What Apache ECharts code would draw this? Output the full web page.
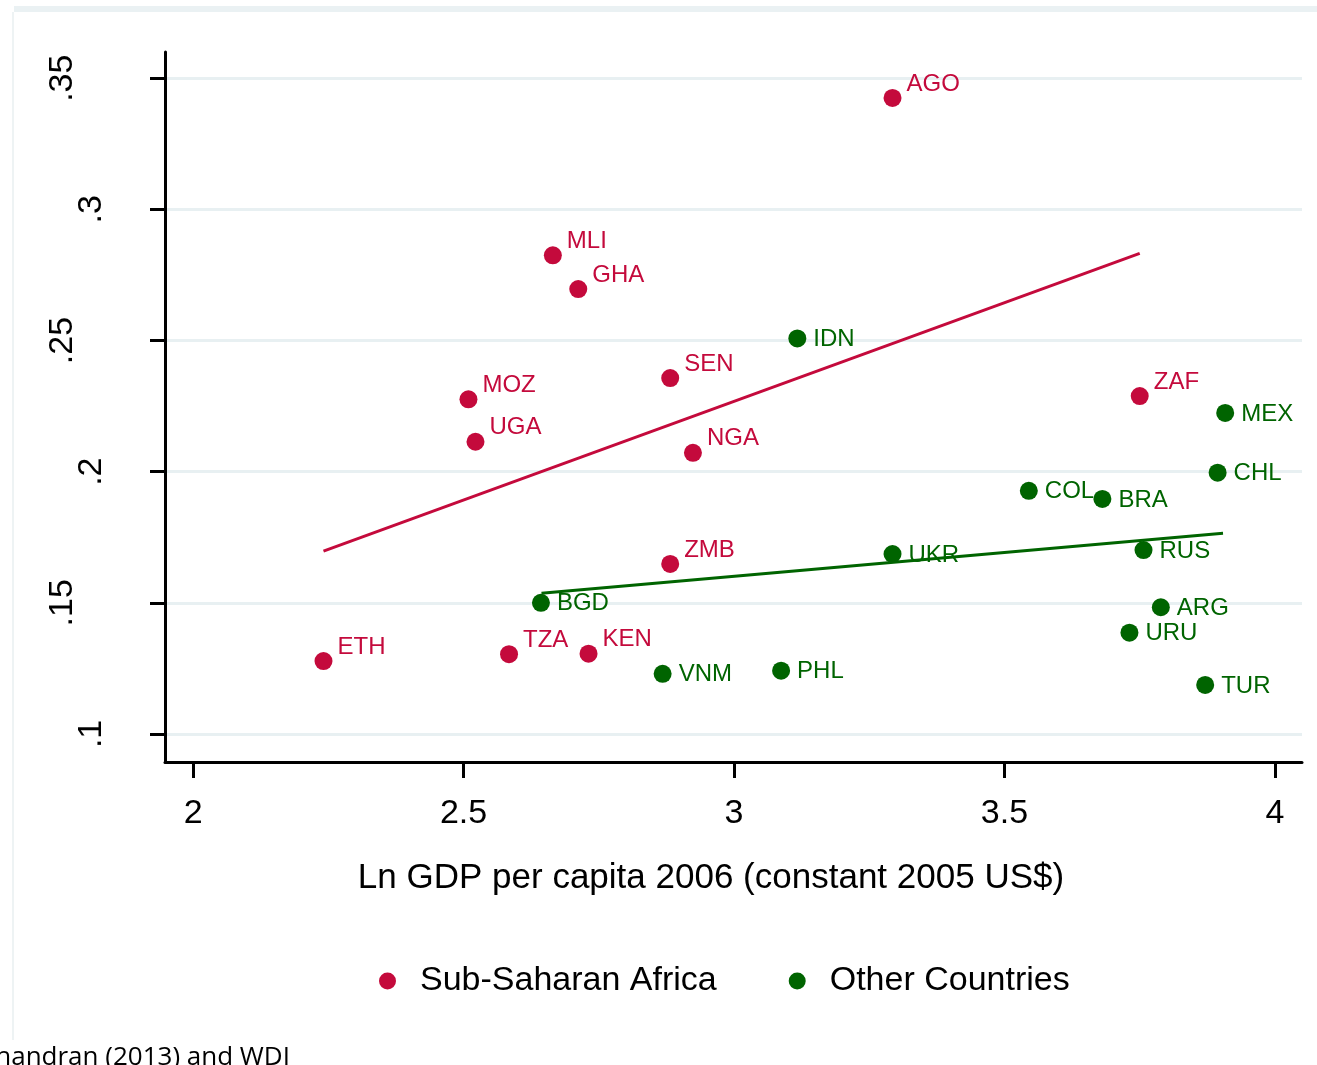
<!DOCTYPE html>
<html>
<head>
<meta charset="utf-8">
<script src="https://cdn.jsdelivr.net/npm/echarts@6/dist/echarts.min.js"></script>
<style>
  html, body { margin: 0; padding: 0; background: #ffffff; }
  #chart { width: 1317px; height: 1065px; }
</style>
</head>
<body>
<div id="chart"></div>
<script>
// Sub-Saharan Africa: country code, ln GDP per capita 2006, vertical-axis value
const africaCodes = ['AGO', 'MLI', 'GHA', 'SEN', 'MOZ', 'UGA', 'NGA', 'ZAF', 'ZMB', 'ETH', 'TZA', 'KEN'];
const africaGdp   = [3.293, 2.665, 2.712, 2.882, 2.509, 2.522, 2.924, 3.750, 2.882, 2.241, 2.584, 2.731];
const africaValue = [0.3425, 0.2825, 0.2696, 0.2357, 0.2276, 0.2114, 0.2072, 0.2288, 0.1648, 0.1278, 0.1304, 0.1306];

// Other countries
const otherCodes = ['IDN', 'MEX', 'CHL', 'COL', 'BRA', 'UKR', 'RUS', 'BGD', 'ARG', 'URU', 'TUR', 'VNM', 'PHL'];
const otherGdp   = [3.117, 3.908, 3.894, 3.545, 3.681, 3.293, 3.757, 2.643, 3.789, 3.731, 3.871, 2.868, 3.087];
const otherValue = [0.2508, 0.2224, 0.1996, 0.1927, 0.1896, 0.1686, 0.1701, 0.1500, 0.1483, 0.1386, 0.1187, 0.1229, 0.1241];

// Linear fit end points for each group
const africaFitX = [2.241, 3.750];
const africaFitY = [0.1697, 0.2832];
const otherFitX  = [2.644, 3.904];
const otherFitY  = [0.1536, 0.1765];

// Axis ticks
const xTicks = [2, 2.5, 3, 3.5, 4];
const yTicks = [0.1, 0.15, 0.2, 0.25, 0.3, 0.35];

const seriesNames = ['Sub-Saharan Africa', 'Other Countries'];
const RED = '#C40A3C';
const GREEN = '#006400';
const FONT = '"Liberation Sans", Arial, sans-serif';

const toPoints = (codes, xs, ys) => codes.map((c, i) => ({ name: c, value: [xs[i], ys[i]] }));
const toLine = (xs, ys) => xs.map((x, i) => [x, ys[i]]);

const chart = echarts.init(document.getElementById('chart'), null, { renderer: 'canvas' });

chart.setOption({
  animation: false,
  backgroundColor: '#ffffff',
  graphic: [
    { type: 'rect', left: 14, top: 6, shape: { width: 1303, height: 6 }, style: { fill: '#EAF1F3' }, silent: true },
    { type: 'rect', left: 12, top: 12, shape: { width: 2, height: 1028 }, style: { fill: '#EEF3F4' }, silent: true },
    {
      type: 'text', right: 1027, top: 1045, silent: true,
      style: { text: 'Ramachandran (2013) and WDI', fontFamily: '"Open Sans", Lato, sans-serif', fontSize: 26, fill: '#000000' }
    }
  ],
  grid: { left: 165, right: 15, top: 52, bottom: 303, containLabel: false },
  legend: {
    data: seriesNames.map(n => ({ name: n, icon: 'circle' })),
    left: 374,
    top: 959,
    itemWidth: 55,
    itemHeight: 17,
    itemGap: 72,
    textStyle: { fontFamily: FONT, fontSize: 34, color: '#000000' }
  },
  xAxis: {
    type: 'value',
    min: 1.948,
    max: 4.05,
    name: 'Ln GDP per capita 2006 (constant 2005 US$)',
    nameLocation: 'middle',
    nameGap: 99,
    nameTextStyle: { fontFamily: FONT, fontSize: 35, color: '#000000', padding: [0, 45, 0, 0] },
    axisLine: { onZero: false, lineStyle: { color: '#000000', width: 3 } },
    axisTick: { customValues: xTicks, length: 16, lineStyle: { color: '#000000', width: 3 } },
    axisLabel: {
      customValues: xTicks,
      margin: 35,
      fontFamily: FONT, fontSize: 34, color: '#000000',
      formatter: v => String(v)
    },
    splitLine: { show: false }
  },
  yAxis: {
    type: 'value',
    min: 0.0893,
    max: 0.36,
    axisLine: { onZero: false, lineStyle: { color: '#000000', width: 3 } },
    axisTick: { customValues: yTicks, length: 15, lineStyle: { color: '#000000', width: 3 } },
    axisLabel: {
      customValues: yTicks,
      rotate: 90,
      margin: 56,
      fontFamily: FONT, fontSize: 34, color: '#000000',
      formatter: v => {
        const s = String(v).replace(/^0/, '');
        return s.length > 2 ? '{w|' + s + '}' : '{n|' + s + '}';
      },
      rich: {
        w: { fontFamily: FONT, fontSize: 34, color: '#000000', padding: [0, 0, 29, 0] },
        n: { fontFamily: FONT, fontSize: 34, color: '#000000' }
      }
    },
    splitLine: { show: true, lineStyle: { color: '#E8F0F2', width: 3 } }
  },
  series: [
    {
      name: seriesNames[0],
      type: 'scatter',
      symbol: 'circle',
      symbolSize: 18,
      itemStyle: { color: RED, opacity: 1 },
      data: toPoints(africaCodes, africaGdp, africaValue),
      label: {
        show: true, position: 'right', distance: 5, offset: [0, -14],
        formatter: '{b}', fontFamily: FONT, fontSize: 24, color: RED
      },
      z: 3
    },
    {
      name: seriesNames[1],
      type: 'scatter',
      symbol: 'circle',
      symbolSize: 18,
      itemStyle: { color: GREEN, opacity: 1 },
      data: toPoints(otherCodes, otherGdp, otherValue),
      label: {
        show: true, position: 'right', distance: 7, offset: [0, 1],
        formatter: '{b}', fontFamily: FONT, fontSize: 24, color: GREEN
      },
      z: 3
    },
    {
      name: 'africaFit',
      type: 'line',
      symbol: 'none',
      silent: true,
      lineStyle: { color: RED, width: 3 },
      data: toLine(africaFitX, africaFitY),
      z: 4
    },
    {
      name: 'otherFit',
      type: 'line',
      symbol: 'none',
      silent: true,
      lineStyle: { color: GREEN, width: 3 },
      data: toLine(otherFitX, otherFitY),
      z: 4
    }
  ]
});
</script>
</body>
</html>
